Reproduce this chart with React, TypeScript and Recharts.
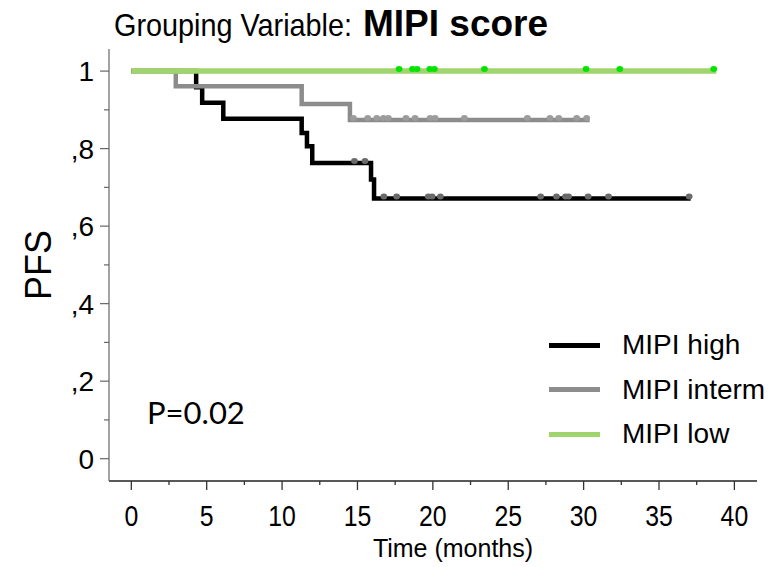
import React from 'react';
import { ComposedChart, Line, Scatter, XAxis, YAxis, Legend } from 'recharts';

// ---- data ----
const seriesNames = ['MIPI high', 'MIPI interm', 'MIPI low'];
const seriesColors = ['#000000', '#8c8c8c', '#a0d46c'];
const censorColors = ['#6a6a6a', '#9c9c9c', '#00e400'];

const highTimes = [0, 4.3, 4.7, 6.1, 11.3, 11.65, 12.0, 15.9, 16.1, 37.1];
const highSurvival = [1, 0.958, 0.918, 0.877, 0.84, 0.806, 0.763, 0.72, 0.671, 0.671];
const highCensorTimes = [14.8, 15.5, 16.75, 17.6, 19.7, 19.95, 20.5, 27.15, 28.2, 28.8, 29.0, 30.3, 31.65, 37.0];
const highCensorSurvival = [0.763, 0.763, 0.671, 0.671, 0.671, 0.671, 0.671, 0.671, 0.671, 0.671, 0.671, 0.671, 0.671, 0.671];

const intermTimes = [0, 2.95, 11.3, 14.5, 30.4];
const intermSurvival = [1, 0.961, 0.915, 0.874, 0.874];
const intermCensorTimes = [14.73, 15.68, 16.28, 16.72, 17.05, 18.22, 18.82, 19.82, 20.15, 22.09, 26.27, 27.77, 28.35, 29.54, 30.2];
const intermCensorSurvival = [0.874, 0.874, 0.874, 0.874, 0.874, 0.874, 0.874, 0.874, 0.874, 0.874, 0.874, 0.874, 0.874, 0.874, 0.874];

const lowTimes = [0, 38.8];
const lowSurvival = [1, 1];
const lowCensorTimes = [17.76, 18.65, 18.95, 19.8, 20.1, 23.42, 30.16, 32.4, 38.63];
const lowCensorSurvival = [1, 1, 1, 1, 1, 1, 1, 1, 1];

const xTicks = [0, 2.5, 5, 7.5, 10, 12.5, 15, 17.5, 20, 22.5, 25, 27.5, 30, 32.5, 35, 37.5, 40];
const yTicks = [0, 0.1, 0.2, 0.3, 0.4, 0.5, 0.6, 0.7, 0.8, 0.9, 1];
const yTickLabels = ['0', '', ',2', '', ',4', '', ',6', '', ',8', '', '1'];

const zip = (ts: number[], vs: number[]) => ts.map((t, i) => ({ t, v: vs[i] }));

const curves = [zip(highTimes, highSurvival), zip(intermTimes, intermSurvival), zip(lowTimes, lowSurvival)];
const censors = [
  zip(highCensorTimes, highCensorSurvival),
  zip(intermCensorTimes, intermCensorSurvival),
  zip(lowCensorTimes, lowCensorSurvival),
];

const FONT = '"Liberation Sans", Arial, sans-serif';

const XTick = (props: any) => {
  const { x, y, payload } = props;
  const v = payload.value;
  const major = Math.abs(v % 5) < 1e-6;
  return (
    <g>
      <line x1={x} x2={x} y1={y} y2={y + (major ? 9 : 4)} stroke="#333" strokeWidth={1.3} />
      {major && (
        <text
          transform={`translate(${x} ${y + 45}) scale(0.92 1.06)`}
          textAnchor="middle"
          fontSize={27}
          fontFamily={FONT}
          fill="#000"
        >
          {v}
        </text>
      )}
    </g>
  );
};

const YTick = (props: any) => {
  const { x, y, payload } = props;
  const idx = yTicks.findIndex((t) => Math.abs(t - payload.value) < 1e-6);
  const label = idx >= 0 ? yTickLabels[idx] : '';
  const major = label !== '';
  return (
    <g>
      <line x1={x - (major ? 9 : 5)} x2={x} y1={y} y2={y} stroke="#666" strokeWidth={1.2} />
      {major && (
        <text x={x - 15} y={y + 10} textAnchor="end" fontSize={28} fontFamily={FONT} fill="#000">
          {label}
        </text>
      )}
    </g>
  );
};

const makeDot = (color: string) => (props: any) => {
  const { cx, cy } = props;
  if (cx == null || cy == null) return <g />;
  return <ellipse cx={cx} cy={cy - 2} rx={3.4} ry={3} fill={color} />;
};

const LegendContent = () => (
  <div style={{ fontFamily: FONT, fontSize: 28, color: '#000' }}>
    {seriesNames.map((n, i) => (
      <div key={n} style={{ display: 'flex', alignItems: 'center', height: 44.5 }}>
        <div style={{ width: 51, height: 5, background: seriesColors[i], marginRight: 22 }} />
        <span style={{ lineHeight: 1, whiteSpace: 'nowrap' }}>{n}</span>
      </div>
    ))}
  </div>
);

export default function App() {
  return (
    <div style={{ position: 'absolute', left: 0, top: 0, width: 772, height: 567, background: '#fff' }}>
      <ComposedChart width={772} height={567} margin={{ top: 49, right: 15, bottom: 0, left: 0 }}>
        <XAxis
          type="number"
          dataKey="t"
          domain={[-1.48, 41.5]}
          allowDataOverflow
          ticks={xTicks}
          interval={0}
          tickLine={false}
          tickSize={0}
          tickMargin={0}
          tick={<XTick />}
          height={86}
          axisLine={{ stroke: '#222', strokeWidth: 1.5 }}
          label={(p: any) => {
            const vb = p.viewBox || { x: 109, y: 481, width: 648 };
            return (
              <text x={vb.x + vb.width / 2 + 20} y={vb.y + 76} textAnchor="middle" fontSize={25} fontFamily={FONT} fill="#000">
                Time (months)
              </text>
            );
          }}
        />
        <YAxis
          type="number"
          dataKey="v"
          domain={[-0.0576, 1.057]}
          allowDataOverflow
          ticks={yTicks}
          interval={0}
          tickLine={false}
          tickSize={0}
          tickMargin={0}
          tick={<YTick />}
          width={109}
          axisLine={{ stroke: '#666', strokeWidth: 1.2 }}
          label={(p: any) => {
            const vb = p.viewBox || { x: 0, y: 49, height: 432 };
            const cx = vb.x + 38;
            const cy = vb.y + vb.height / 2;
            return (
              <text
                x={cx}
                y={cy}
                transform={`rotate(-90 ${cx} ${cy})`}
                textAnchor="middle"
                dominantBaseline="central"
                fontSize={36}
                fontFamily={FONT}
                fill="#000"
              >
                PFS
              </text>
            );
          }}
        />
        {curves.map((d, i) => (
          <Line
            key={'l' + i}
            data={d}
            dataKey="v"
            type="stepAfter"
            stroke={seriesColors[i]}
            strokeWidth={i === 2 ? 5.5 : 4.5}
            dot={false}
            activeDot={false}
            isAnimationActive={false}
            name={seriesNames[i]}
          />
        ))}
        {censors.map((d, i) => (
          <Scatter
            key={'s' + i}
            data={d}
            dataKey="v"
            shape={makeDot(censorColors[i])}
            isAnimationActive={false}
            legendType="none"
          />
        ))}
        <Legend
          layout="vertical"
          align="center"
          verticalAlign="middle"
          content={<LegendContent />}
          wrapperStyle={{ left: 549, top: 323, width: 223, margin: 0 }}
        />
      </ComposedChart>
      <svg width={772} height={567} style={{ position: 'absolute', left: 0, top: 0, pointerEvents: 'none' }}>
        <text transform="translate(114 36) scale(0.9 1)" fontFamily={FONT} fontSize={32} fill="#000">
          Grouping Variable:
        </text>
        <text x={363} y={36} fontFamily={FONT} fontWeight="bold" fontSize={37} fill="#000">
          MIPI score
        </text>
        <text x={147} y={424} fontFamily="Lato, 'Open Sans', sans-serif" fontSize={31} fill="#000">
          P=0.02
        </text>
      </svg>
    </div>
  );
}
